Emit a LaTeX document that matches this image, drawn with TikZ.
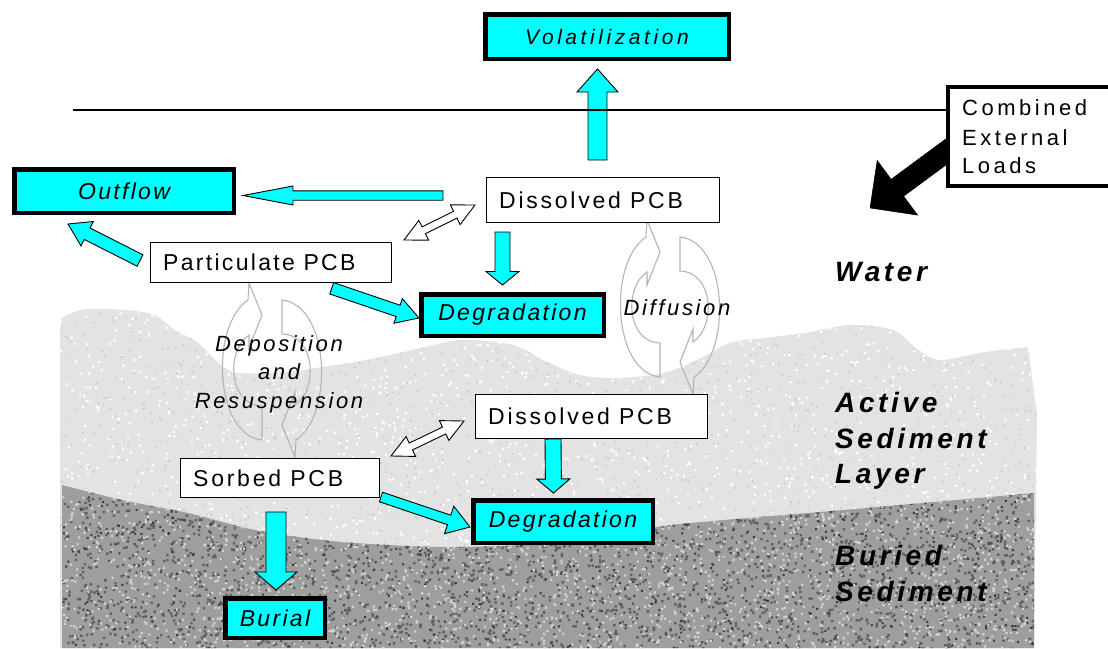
\documentclass[tikz,border=0pt]{standalone}
\usepackage{fontspec}
\setmainfont{Liberation Sans}
\usetikzlibrary{calc}
\definecolor{cy}{HTML}{00FFFF}
\definecolor{lsed}{HTML}{E3E3E3}
\definecolor{lsedd}{HTML}{CDCDCD}
\definecolor{dsed}{HTML}{9E9E9E}
\definecolor{dsedd}{HTML}{616161}
\definecolor{dseddd}{HTML}{3E3E3E}
\definecolor{dsedl}{HTML}{D2D2D2}
\definecolor{cyg}{HTML}{B4B4B4}

\tikzset{
 thinbox/.style={draw=black,line width=1.4pt,fill=white,inner sep=0pt},
 thickbox/.style={draw=black,line width=4.5pt,fill=cy,inner sep=0pt,font=\fontsize{23}{27}\selectfont\itshape\addfontfeature{LetterSpace=10}},
 boxtext/.style={inner sep=0pt,font=\fontsize{23}{27}\selectfont\addfontfeature{LetterSpace=12}},
 proctext/.style={inner sep=0pt,font=\fontsize{22}{27}\selectfont\itshape\addfontfeature{LetterSpace=12}},
 layertext/.style={inner sep=0pt,font=\fontsize{28}{34}\selectfont\bfseries\itshape\addfontfeature{LetterSpace=13}},
 loadtext/.style={inner sep=0pt,font=\fontsize{22}{27}\selectfont\addfontfeature{LetterSpace=16}},
 cyarrow/.style={fill=cy,draw=black,line width=0.9pt,line join=miter},
 blackarrow/.style={fill=black,draw=black,line width=0.5pt},
 wharrow/.style={fill=white,draw=black,line width=0.9pt,line join=miter},
 cyclearrow/.style={draw=cyg,line width=1.1pt},
 waterline/.style={draw=black,line width=1.1pt},
}

% block arrow: style, from, to, shaft half width, head half width, head length
\newcommand\blockarrow[6]{%
  \path (#2); \pgfgetlastxy{\BAax}{\BAay}%
  \path (#3); \pgfgetlastxy{\BAbx}{\BAby}%
  \pgfmathsetmacro\BAang{atan2(\BAby-\BAay,\BAbx-\BAax)}%
  \pgfmathsetmacro\BAlen{veclen(\BAbx-\BAax,\BAby-\BAay)}%
  \begin{scope}[shift={(\BAax,\BAay)},rotate=\BAang,x=1pt,y=1pt]
    \draw[#1] (0,-#4) -- ({\BAlen-#6},-#4) -- ({\BAlen-#6},-#5) -- (\BAlen,0)
      -- ({\BAlen-#6},#5) -- ({\BAlen-#6},#4) -- (0,#4) -- cycle;
  \end{scope}}
% double headed arrow
\newcommand\dblarrow[6]{%
  \path (#2); \pgfgetlastxy{\BAax}{\BAay}%
  \path (#3); \pgfgetlastxy{\BAbx}{\BAby}%
  \pgfmathsetmacro\BAang{atan2(\BAby-\BAay,\BAbx-\BAax)}%
  \pgfmathsetmacro\BAlen{veclen(\BAbx-\BAax,\BAby-\BAay)}%
  \begin{scope}[shift={(\BAax,\BAay)},rotate=\BAang,x=1pt,y=1pt]
    \draw[#1] (0,0) -- (#6,#5) -- (#6,#4) -- ({\BAlen-#6},#4) -- ({\BAlen-#6},#5)
      -- (\BAlen,0) -- ({\BAlen-#6},-#5) -- ({\BAlen-#6},-#4) -- (#6,-#4) -- (#6,-#5) -- cycle;
  \end{scope}}
% pair of curved exchange arrows around a centre
\newcommand\cyclepair[1]{%
  \begin{scope}[shift={(#1)}]
    \draw[cyclearrow] (-10,70) .. controls (-58,65) and (-62,-45) .. (-24,-70)
      -- (-23,-87) -- (-10,-55) -- (-23,-22) -- (-23,-35)
      .. controls (-46,-20) and (-44,35) .. (-10,36) -- cycle;
    \draw[cyclearrow] (10,-70) .. controls (58,-65) and (62,45) .. (24,70)
      -- (23,87) -- (10,55) -- (23,22) -- (23,35)
      .. controls (46,20) and (44,-35) .. (10,-36) -- cycle;
  \end{scope}}

\begin{document}
\begin{tikzpicture}[x=1pt,y=-1pt]
\clip (0,0) rectangle (1108,648);
\fill[white] (0,0) rectangle (1108,648);
\pgfmathsetseed{7}
\def\lightpath{(60,330) -- plot[smooth,tension=0.55] coordinates {(62,318) (88,309) (148,313) (175,330) (198,343) (222,366) (240,373) (288,372) (322,367) (355,362) (390,355) (430,346) (463,340) (513,345) (547,362) (580,375) (617,378) (663,373) (697,360) (730,343) (763,338) (805,333) (850,325) (893,330) (917,349) (940,360) (985,352) (1028,347)} -- (1037,415) -- (1034,648) -- (60,648) -- cycle}
\def\darkpath{plot[smooth,tension=0.55] coordinates {(62,485) (122,500) (188,513) (255,530) (322,540) (388,545) (455,547) (555,543) (637,530) (690,523) (843,510) (1034,493)} -- (1034,648) -- (62,648) -- cycle}

% active sediment layer
\fill[lsed] \lightpath;
\begin{scope}
  \clip \lightpath;
  \fill[white] \foreach \i in {1,...,2000} { ({60+978*rnd},{305+343*rnd}) rectangle ++(2.2,2.2) };
  \fill[lsedd] \foreach \i in {1,...,1500} { ({60+978*rnd},{305+343*rnd}) rectangle ++(1.8,1.8) };
\end{scope}
% buried sediment
\fill[dsed] \darkpath;
\begin{scope}
  \clip \darkpath;
  \fill[dsedd] \foreach \i in {1,...,2600} { ({62+972*rnd},{490+158*rnd}) rectangle ++(2.4,2.4) };
  \fill[dseddd] \foreach \i in {1,...,900} { ({62+972*rnd},{490+158*rnd}) rectangle ++(2,2) };
  \fill[dsedl] \foreach \i in {1,...,2200} { ({62+972*rnd},{490+158*rnd}) rectangle ++(2.2,2.2) };
\end{scope}

% exchange cycles
\coordinate (depc) at (272,370);
\coordinate (difc) at (670,307);
\cyclepair{depc}
\cyclepair{difc}

% arrow end points
\coordinate (va0) at (597.5,160); \coordinate (va1) at (597.5,69);
\coordinate (oa0) at (443,195.5); \coordinate (oa1) at (243,195.5);
\coordinate (po0) at (140,260.5); \coordinate (po1) at (68,224);
\coordinate (pd0) at (331.7,288.3); \coordinate (pd1) at (419,318);
\coordinate (dd0) at (502.5,232); \coordinate (dd1) at (502.5,285);
\coordinate (ee0) at (553,439); \coordinate (ee1) at (553.5,493);
\coordinate (sd0) at (381,497); \coordinate (sd1) at (470,527);
\coordinate (sb0) at (276,512); \coordinate (sb1) at (276,590);
\coordinate (ba0) at (958,143); \coordinate (ba1) at (870,208);
\coordinate (w1a) at (404,240); \coordinate (w1b) at (475,205);
\coordinate (w2a) at (391,456); \coordinate (w2b) at (464,421);

\blockarrow{cyarrow}{va0}{va1}{9.5}{20.5}{23}
\blockarrow{cyarrow}{oa0}{oa1}{4.7}{9.5}{50}
\blockarrow{cyarrow}{po0}{po1}{6.4}{13.7}{21.5}
\blockarrow{cyarrow}{pd0}{pd1}{6}{13}{22}
\blockarrow{cyarrow}{dd0}{dd1}{7.5}{16.5}{13.5}
\blockarrow{cyarrow}{ee0}{ee1}{8}{16.5}{14}
\blockarrow{cyarrow}{sd0}{sd1}{5}{14.5}{22}
\blockarrow{cyarrow}{sb0}{sb1}{10}{21}{18}
\blockarrow{blackarrow}{ba0}{ba1}{10.5}{34}{34}
\dblarrow{wharrow}{w1a}{w1b}{3.8}{11}{22}
\dblarrow{wharrow}{w2a}{w2b}{3.8}{11}{22}

% external loads box and water surface
\node[draw=black,line width=4pt,fill=white,inner sep=0pt,minimum width=170pt,minimum height=99pt] (comb) at (1033,136.5) {};
\coordinate (hl) at (73,110);
\draw[waterline] (hl) -- (hl -| comb.west);
\node[loadtext,anchor=base west] (cb1) at (962,115) {Combined};
\node[loadtext,anchor=base west] (cb2) at (962,145) {External};
\node[loadtext,anchor=base west] (cb3) at (962,173) {Loads};

% sink boxes
\node[thickbox,minimum width=243.5pt,minimum height=44.5pt,font=\fontsize{21}{25}\selectfont\itshape\addfontfeature{LetterSpace=17}] (vol) at (607,36.5) {Volatilization};
\node[thickbox,minimum width=219.5pt,minimum height=43.5pt] (out) at (124,191) {Outflow};
\node[thickbox,minimum width=182.5pt,minimum height=41.5pt] (deg1) at (512.5,315) {Degradation};
\node[thickbox,minimum width=179.5pt,minimum height=42.5pt] (deg2) at (563,521.5) {Degradation};
\node[thickbox,minimum width=99.5pt,minimum height=39.5pt] (bur) at (275,618) {Burial};

% PCB compartments
\node[thinbox,minimum width=232.6pt,minimum height=44.6pt] (dis1) at (603,200) {};
\node[boxtext,anchor=west] (dis1t) at ($(dis1.west)+(13,0)$) {Dissolved PCB};
\node[thinbox,minimum width=240.6pt,minimum height=39.6pt] (par) at (271,262.5) {};
\node[boxtext,anchor=west,font=\fontsize{23}{27}\selectfont\addfontfeature{LetterSpace=10}] (part) at ($(par.west)+(13,0)$) {Particulate PCB};
\node[thinbox,minimum width=231.6pt,minimum height=43.6pt] (dis2) at (591.5,416.5) {};
\node[boxtext,anchor=west] (dis2t) at ($(dis2.west)+(13,0)$) {Dissolved PCB};
\node[thinbox,minimum width=198.6pt,minimum height=38.6pt] (sor) at (280,478) {};
\node[boxtext,anchor=west] (sort) at ($(sor.west)+(13,0)$) {Sorbed PCB};

% process labels
\node[proctext,anchor=base] (dep1) at (279,351) {Deposition};
\node[proctext,anchor=base] (dep2) at (279,379) {and};
\node[proctext,anchor=base] (dep3) at (279,408) {Resuspension};
\node[proctext,anchor=base] (diff) at (677,315) {Diffusion};

% layer labels
\node[layertext,anchor=base west] (water) at (835,281) {Water};
\node[layertext,anchor=base west] (act) at (835,412) {Active};
\node[layertext,anchor=base west] (sed1) at (835,448) {Sediment};
\node[layertext,anchor=base west] (lay) at (835,483) {Layer};
\node[layertext,anchor=base west] (bur1) at (835,565) {Buried};
\node[layertext,anchor=base west] (sed2) at (835,601) {Sediment};
\end{tikzpicture}
\end{document}
